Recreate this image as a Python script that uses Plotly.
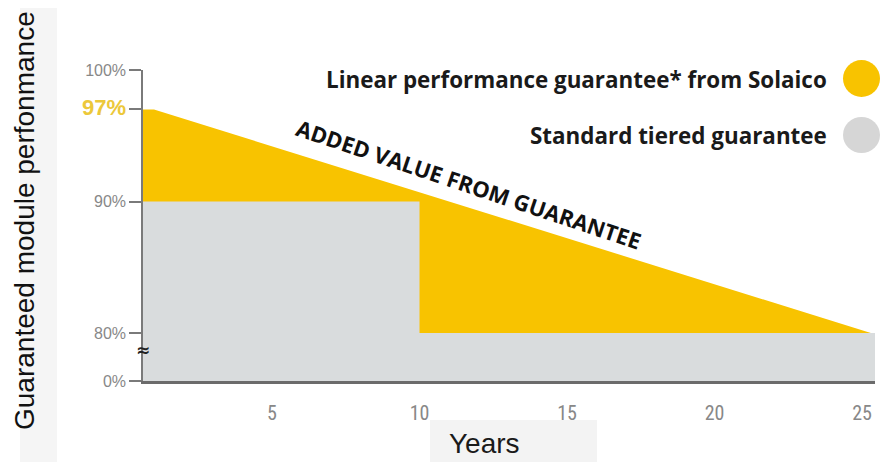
import plotly.graph_objects as go

# ---------------- data ----------------
linear_years = [0, 1, 25.3]          # Linear guarantee (Solaico)
linear_perf = [97, 97, 80]
tiered_years = [0, 10, 10, 26]       # Standard tiered guarantee
tiered_perf = [90, 90, 80, 80]
x_ticks = [5, 10, 15, 20, 25]
y_tick_values = [0, 80, 90, 97, 100]
y_tick_labels = ["0%", "80%", "90%", "97%", "100%"]

# broken axis: 80..100 linear, 0..80 compressed into a small band
BREAK = 80.0
GAP = 3.65


def brk(v):
    return v if v >= BREAK else BREAK - (BREAK - v) / BREAK * GAP


YELLOW = "#f8c300"
GREY = "#d9dcdd"

# the page has an 8px body margin, so the figure is drawn 8px in from the top-left
OFF = 8
W, H = 888 - OFF, 462 - OFF
# plot area in window pixels: x 143..875, y 70..381
L, R, T, B = 143 - OFF, 888 - 875, 70 - OFF, 462 - 381
PW, PH = W - L - R, H - T - B


def px(x):
    return (x - OFF - L) / PW


def py(y):
    return (H - B - (y - OFF)) / PH


fig = go.Figure()
fig.add_trace(go.Scatter(
    x=linear_years, y=[brk(v) for v in linear_perf], mode="lines",
    line=dict(width=0, color=YELLOW), fill="tozeroy", fillcolor=YELLOW,
    hoverinfo="skip", showlegend=False))
fig.add_trace(go.Scatter(
    x=tiered_years, y=[brk(v) for v in tiered_perf], mode="lines",
    line=dict(width=0, color=GREY), fill="tozeroy", fillcolor=GREY,
    hoverinfo="skip", showlegend=False))

ticktext = []
for lab in y_tick_labels:
    if lab == "97%":
        ticktext.append("<span style='color:#ecc83a;font-size:22px'><b>97%</b></span>")
    else:
        ticktext.append(lab)

narrow = "Liberation Sans Narrow, Roboto Condensed, Arial Narrow, sans-serif"
xtickfont = dict(family=narrow, size=20, color="#888888")
ytickfont = dict(family="Liberation Sans, Arial, sans-serif", size=16, color="#888888")

fig.update_xaxes(range=[0.627, 25.44], tickvals=x_ticks, ticktext=[str(t) for t in x_ticks],
                 showgrid=False, zeroline=False, showline=True, linecolor="#6b6b6b",
                 linewidth=2.5, ticks="outside", ticklen=12, tickcolor="rgba(0,0,0,0)",
                 tickfont=xtickfont, fixedrange=True)
fig.update_yaxes(range=[brk(0), 100], tickvals=[brk(v) for v in y_tick_values],
                 ticktext=ticktext, showgrid=False, zeroline=False, showline=True,
                 linecolor="#7a7a7a", linewidth=1.5, ticks="outside", ticklen=12,
                 tickcolor="#7a7a7a", tickwidth=1.5, tickfont=ytickfont, fixedrange=True)

shapes = [
    # light strip behind y title
    dict(type="rect", xref="paper", yref="paper", x0=px(20), x1=px(57), y0=py(462), y1=py(8),
         fillcolor="#f5f5f5", line_width=0, layer="below"),
    # light box behind "Years"
    dict(type="rect", xref="paper", yref="paper", x0=px(430), x1=px(597), y0=py(462), y1=py(420),
         fillcolor="#f3f3f3", line_width=0, layer="below"),
    # legend circles
    dict(type="circle", xref="paper", yref="paper", x0=px(843), x1=px(880), y0=py(97), y1=py(60),
         fillcolor=YELLOW, line_width=0),
    dict(type="circle", xref="paper", yref="paper", x0=px(843), x1=px(880), y0=py(153), y1=py(117),
         fillcolor="#d6d6d6", line_width=0),
]

bold = "Open Sans, Noto Sans, sans-serif"
annotations = [
    dict(text="<b>Linear performance guarantee* from Solaico</b>", xref="paper", yref="paper",
         x=px(829), y=py(79), xanchor="right", yanchor="middle", showarrow=False,
         font=dict(family=bold, size=22.4, color="#1a1a1a")),
    dict(text="<b>Standard tiered guarantee</b>", xref="paper", yref="paper",
         x=px(829), y=py(135), xanchor="right", yanchor="middle", showarrow=False,
         font=dict(family=bold, size=22.4, color="#1a1a1a")),
    dict(text="<b>ADDED VALUE FROM GUARANTEE</b>", xref="paper", yref="paper",
         x=px(469), y=py(184), xanchor="center", yanchor="middle", showarrow=False,
         textangle=18.5, font=dict(family=bold, size=22, color="#111111")),
    dict(text="Guaranteed module perfonmance", xref="paper", yref="paper",
         x=px(24), y=py(221), xanchor="center", yanchor="middle", showarrow=False,
         textangle=-90, font=dict(family="Liberation Sans, Arial, sans-serif", size=28,
                                  color="#111111")),
    dict(text="Years", xref="paper", yref="paper",
         x=px(484), y=py(443), xanchor="center", yanchor="middle", showarrow=False,
         font=dict(family="Liberation Sans, Arial, sans-serif", size=28, color="#1a1a1a")),
    dict(text="<b>≈</b>", xref="paper", yref="paper",
         x=px(143), y=py(350), xanchor="center", yanchor="middle", showarrow=False,
         font=dict(family="DejaVu Sans, sans-serif", size=17, color="#222222")),
]

fig.update_layout(width=W, height=H, margin=dict(l=L, r=R, t=T, b=B),
                  paper_bgcolor="white", plot_bgcolor="white",
                  shapes=shapes, annotations=annotations, showlegend=False)

fig.write_html("out.html")
